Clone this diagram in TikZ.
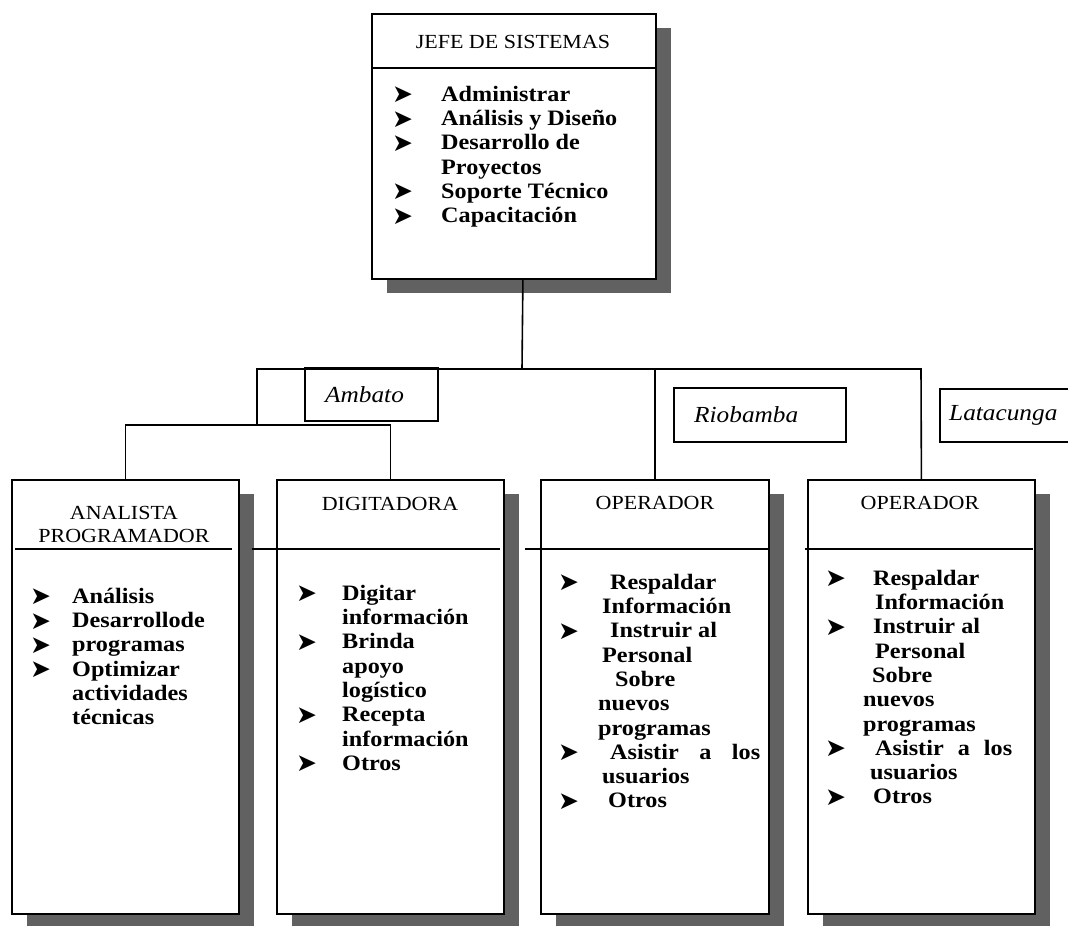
\documentclass[tikz,border=0pt]{standalone}
\usepackage{fontspec}
\setmainfont{Liberation Serif}[FakeStretch=1.1]
\newfontfamily\symfont{DejaVu Sans}
\usetikzlibrary{shadows}

% bullet and list lines
\newcommand{\flecha}{{\symfont\fontsize{25}{25}\selectfont\raisebox{-1.5pt}{➤}}}
\newcommand{\itm}[2][44pt]{\strut\makebox[#1][l]{\flecha}#2}
\newcommand{\sig}[2][44pt]{\strut\hspace*{#1}#2}

\tikzset{
  caja/.style={draw, line width=1.8pt, fill=white, rectangle, anchor=north west,
    inner sep=0pt, general shadow={fill=black!62, shadow xshift=15pt, shadow yshift=-14pt}},
  ciudad/.style={draw, line width=1.8pt, fill=white, rectangle, anchor=north west, inner sep=0pt},
  ciudadtxt/.style={anchor=west, inner sep=0pt, font=\fontsize{23}{23}\selectfont\itshape},
  titulo/.style={align=center, inner sep=0pt, font=\fontsize{20}{23}\selectfont},
  lista/.style={anchor=north west, inner sep=0pt, align=left, font=\fontsize{22}{24.3}\selectfont\bfseries},
  linea/.style={line width=1.6pt}
}

\begin{document}
\begin{tikzpicture}[x=1pt,y=-1pt]
\useasboundingbox (0,0) rectangle (1068,926);
\clip (0,0) rectangle (1068,926);

% Jefe de sistemas
\node[caja, minimum width=284pt, minimum height=265pt] (jefe) at (371,13) {};
\draw[linea] ([yshift=-55pt]jefe.north west) -- ([yshift=-55pt]jefe.north east);
\node[titulo] (jefeTit) at (513,42) {JEFE DE SISTEMAS};
\node[lista] (jefeLista) at (392,84) {%
  \itm[49pt]{Administrar}\\
  \itm[49pt]{Análisis y Diseño}\\
  \itm[49pt]{Desarrollo de}\\
  \sig[49pt]{Proyectos}\\
  \itm[49pt]{Soporte Técnico}\\
  \itm[49pt]{Capacitación}};

% Cajas de abajo
\node[caja, minimum width=227pt, minimum height=434pt] (analista) at (11,479) {};
\node[caja, minimum width=227pt, minimum height=434pt] (digitadora) at (276,479) {};
\node[caja, minimum width=228pt, minimum height=434pt] (operadorA) at (540,479) {};
\node[caja, minimum width=227pt, minimum height=434pt] (operadorB) at (807,479) {};

% lineas bajo los titulos
\draw[linea] ([xshift=4pt,yshift=-70pt]analista.north west) -- ([xshift=-8pt,yshift=-70pt]analista.north east);
\draw[linea] ([xshift=-24pt,yshift=-70pt]digitadora.north west) -- ([xshift=-5pt,yshift=-70pt]digitadora.north east);
\draw[linea] ([xshift=-15pt,yshift=-70pt]operadorA.north west) -- ([yshift=-70pt]operadorA.north east);
\draw[linea] ([xshift=-2pt,yshift=-70pt]operadorB.north west) -- ([xshift=-3pt,yshift=-70pt]operadorB.north east);

\node[titulo] (analistaTit) at (124,524) {ANALISTA\\PROGRAMADOR};
\node[titulo] (digitadoraTit) at (390,504) {DIGITADORA};
\node[titulo] (operadorATit) at (655,503) {OPERADOR};
\node[titulo] (operadorBTit) at (920,503) {OPERADOR};

\node[lista] (analistaLista) at (30,586) {%
  \itm[42pt]{Análisis}\\
  \itm[42pt]{Desarrollode}\\
  \itm[42pt]{programas}\\
  \itm[42pt]{Optimizar}\\
  \sig[42pt]{actividades}\\
  \sig[42pt]{técnicas}};

\node[lista] (digitadoraLista) at (296,583) {%
  \itm[46pt]{Digitar}\\
  \sig[46pt]{información}\\
  \itm[46pt]{Brinda}\\
  \sig[46pt]{apoyo}\\
  \sig[46pt]{logístico}\\
  \itm[46pt]{Recepta}\\
  \sig[46pt]{información}\\
  \itm[46pt]{Otros}};

\node[lista] (operadorALista) at (558,572) {%
  \itm[52pt]{Respaldar}\\
  \sig[44pt]{Información}\\
  \itm[52pt]{Instruir al}\\
  \sig[44pt]{Personal}\\
  \sig[57pt]{Sobre}\\
  \sig[40pt]{nuevos}\\
  \sig[40pt]{programas}\\
  \itm[52pt]{\makebox[150pt][s]{Asistir a los}}\\
  \sig[44pt]{usuarios}\\
  \itm[50pt]{Otros}};

\node[lista] (operadorBLista) at (825,568) {%
  \itm[48pt]{Respaldar}\\
  \sig[50pt]{Información}\\
  \itm[48pt]{Instruir al}\\
  \sig[50pt]{Personal}\\
  \sig[47pt]{Sobre}\\
  \sig[38pt]{nuevos}\\
  \sig[38pt]{programas}\\
  \itm[50pt]{\makebox[137pt][s]{Asistir a los}}\\
  \sig[45pt]{usuarios}\\
  \itm[48pt]{Otros}};

% Ciudades
\node[ciudad, minimum width=133pt, minimum height=53pt] (ambato) at (304,367) {};
\node[ciudadtxt] (ambatoTxt) at ([xshift=21pt]ambato.west) {Ambato};
\node[ciudad, minimum width=172pt, minimum height=54pt] (riobamba) at (673,387) {};
\node[ciudadtxt] (riobambaTxt) at ([xshift=21pt]riobamba.west) {Riobamba};
\node[ciudad, minimum width=172pt, minimum height=53pt] (latacunga) at (939,388) {};
\node[ciudadtxt] (latacungaTxt) at ([xshift=10pt]latacunga.west) {Latacunga};

% Conectores
\coordinate (nudo) at (522,369);
\coordinate (busIzq) at (257,369);
\coordinate (busDer) at (921,369);
\coordinate (bajo) at (257,425);
\draw[linea] ([xshift=9pt]jefe.south) -- (nudo);
\draw[linea] (bajo) -- (busIzq) -- (busDer) -- (operadorB.north);
\draw[linea] (operadorA.north |- busIzq) -- (operadorA.north);
\draw[linea] (analista.north) |- (bajo) -| (digitadora.north);

\end{tikzpicture}
\end{document}
